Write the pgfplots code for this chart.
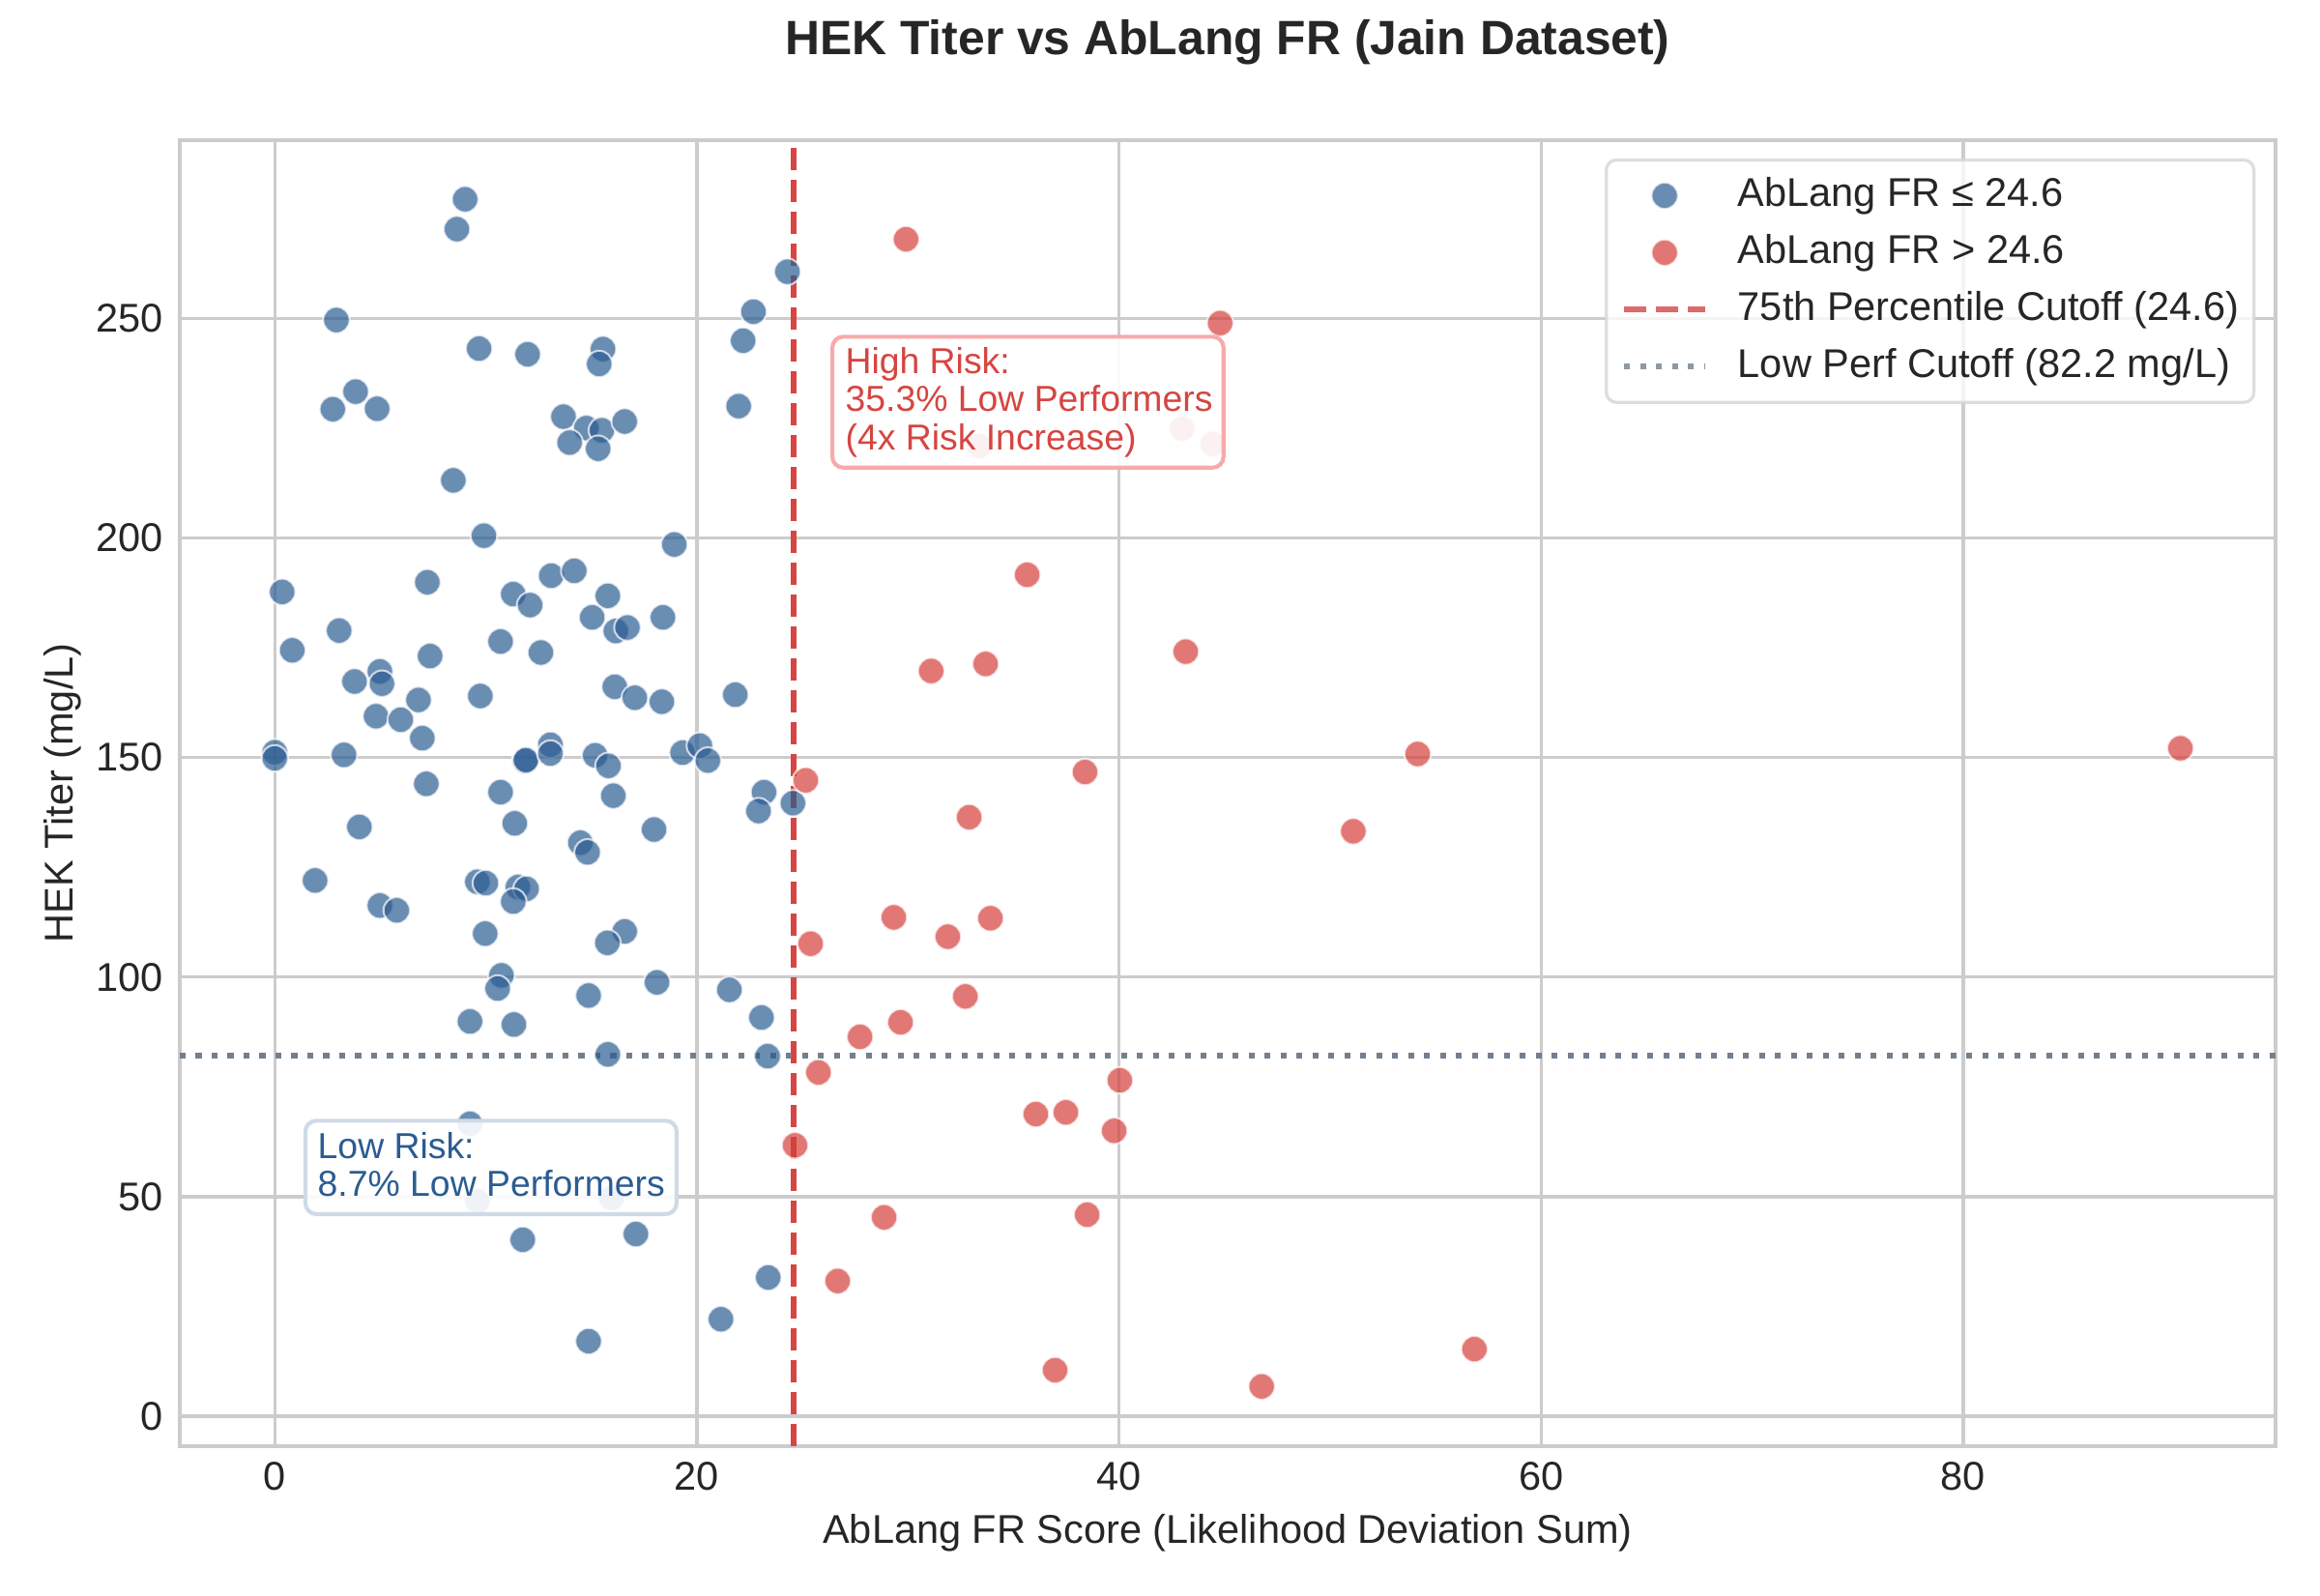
\documentclass[border=0pt]{standalone}
\usepackage{fontspec}
\setmainfont{Liberation Sans}
\setsansfont{Liberation Sans}
\usepackage{pgfplots}
\usepackage{pgfplotstable}
\pgfplotsset{compat=1.18}
\definecolor{frblue}{HTML}{2B5C92}
\definecolor{frred}{HTML}{D64541}
\definecolor{mkred}{HTML}{D43F3A}
\definecolor{gridgray}{HTML}{CCCCCC}
\definecolor{slate}{HTML}{708090}
\definecolor{txt}{HTML}{262626}
\definecolor{lowedge}{HTML}{D0DAE6}
\definecolor{highedge}{HTML}{F8AAAA}
\pgfplotsset{
  dotlegend/.style={legend image code/.code={\draw[##1] plot coordinates {(10.1pt,0pt)};}},
  linelegend/.style={legend image code/.code={\draw[##1] (0pt,0pt) -- (20.2pt,0pt);}},
}

\pgfplotstableread{
x y
9.02 277.1
8.63 270.3
2.92 249.6
9.68 243.1
11.98 241.8
15.55 243.0
15.37 239.6
3.83 233.3
2.75 229.3
4.85 229.4
13.68 227.6
14.76 225.0
15.50 224.5
16.58 226.5
13.97 221.7
15.32 220.3
8.46 213.1
9.91 200.5
18.93 198.5
22.19 244.9
22.68 251.5
21.98 230.0
24.29 260.6
0.35 187.7
7.23 189.9
11.30 187.2
12.10 184.7
13.10 191.4
14.19 192.5
15.78 186.8
15.04 181.9
16.16 178.8
16.71 179.6
18.39 181.9
0.83 174.4
3.05 178.9
10.70 176.4
12.61 173.9
7.36 173.1
4.98 169.6
5.08 166.8
3.78 167.3
6.81 163.1
9.74 164.0
16.11 166.1
17.06 163.6
18.34 162.7
21.82 164.3
4.80 159.4
5.97 158.6
6.99 154.4
0.00 151.2
0.00 149.8
3.28 150.6
11.86 149.2
11.90 149.4
13.06 152.9
13.06 150.9
15.18 150.5
15.81 148.1
19.32 151.1
20.14 152.7
20.52 149.3
7.18 144.0
10.70 142.1
16.04 141.3
11.37 135.0
14.48 130.6
14.82 128.4
17.97 133.6
4.01 134.2
1.91 122.0
4.98 116.3
5.78 115.2
9.60 121.7
10.00 121.4
11.52 120.5
11.93 120.1
11.30 117.2
9.97 109.9
16.58 110.4
15.76 107.8
23.18 142.1
22.92 137.8
24.55 139.6
10.74 100.4
10.56 97.4
14.87 95.8
18.11 98.8
21.54 97.1
9.25 89.9
11.33 89.2
15.78 82.4
23.06 90.8
23.35 82.0
9.25 66.6
9.60 49.0
15.95 49.7
11.75 40.2
17.11 41.5
14.87 17.1
21.14 22.1
23.38 31.6
}\bluedata

\pgfplotstableread{
x y
29.91 268.0
33.37 220.9
35.65 191.6
31.10 169.7
33.68 171.3
38.39 146.7
25.16 144.8
32.90 136.4
29.33 113.6
31.89 109.2
33.91 113.4
25.39 107.6
32.72 95.6
29.65 89.7
27.73 86.4
25.76 78.3
40.04 76.5
36.06 68.8
37.48 69.2
39.77 65.0
24.65 61.7
28.87 45.3
38.49 45.9
26.67 30.8
36.97 10.5
42.99 224.9
44.44 221.4
44.79 248.9
43.16 174.1
54.15 150.8
51.10 133.2
90.29 152.1
46.76 6.8
56.84 15.3
}\reddata

\begin{document}
\begin{tikzpicture}
\path[use as bounding box] (0,0) rectangle (578.16pt,397.48pt);
\begin{axis}[
  at={(44.8pt,37.1pt)}, anchor=south west,
  scale only axis, width=522.3pt, height=325.5pt,
  xmin=-4.5, xmax=94.8, ymin=-6.8, ymax=290.6,
  xtick={0,20,40,60,80}, ytick={0,50,100,150,200,250},
  grid=major, major grid style={draw=gridgray, line width=0.8pt},
  axis line style={draw=gridgray, line width=1pt},
  major tick length=0pt,
  tick label style={font=\fontsize{10}{12}\selectfont, text=txt},
  /pgf/number format/assume math mode=true,
  xticklabel style={anchor=base, yshift=-11pt, inner sep=0pt},
  yticklabel style={anchor=east, xshift=-3.9pt, inner sep=0pt},
  xlabel={AbLang FR Score (Likelihood Deviation Sum)},
  ylabel={HEK Titer (mg/L)},
  xlabel style={at={([yshift=-24.3pt]axis description cs:0.5,0)}, anchor=base, inner sep=0pt, font=\fontsize{10}{12}\selectfont, text=txt},
  ylabel style={at={([xshift=-26.6pt]axis description cs:0,0.5)}, anchor=base, inner sep=0pt, font=\fontsize{10}{12}\selectfont, text=txt},
  title={HEK Titer vs AbLang FR (Jain Dataset)},
  title style={at={([yshift=15.2pt]axis description cs:0.5,1)}, anchor=base, inner sep=0pt, font=\bfseries\fontsize{12}{14}\selectfont, text=txt},
  legend cell align=left,
  legend style={at={(0.9904,0.9859)}, anchor=north east, draw=black!16, line width=0.8pt, rounded corners=2.5pt, fill=white, fill opacity=0.8, draw opacity=0.8, text opacity=1, font=\fontsize{10}{12}\selectfont, text=txt, inner xsep=3.7pt, inner ysep=1.8pt, row sep=0pt, column sep=0pt, nodes={inner xsep=0pt, inner ysep=2.5pt, text height=7.2pt, text depth=2pt}, /tikz/every odd column/.append style={column sep=7.4pt}},
]
\addplot[only marks, mark=*, mark size=3.3pt, mark options={fill=frblue, draw=white, line width=0.5pt, opacity=0.7}, dotlegend] table {\bluedata};
\addlegendentry{AbLang FR ≤ 24.6}
\addplot[only marks, mark=*, mark size=3.3pt, mark options={fill=mkred, draw=white, line width=0.5pt, opacity=0.7}, dotlegend] table {\reddata};
\addlegendentry{AbLang FR > 24.6}
\addplot[frred, line width=1.5pt, dash pattern=on 5.55pt off 2.4pt, linelegend] coordinates {(24.6,-6.8) (24.6,290.6)};
\addlegendentry{75th Percentile Cutoff (24.6)}
\addplot[slate, line width=1.5pt, dash pattern=on 1.5pt off 2.475pt, linelegend] coordinates {(-4.5,82.2) (94.8,82.2)};
\addlegendentry{Low Perf Cutoff (82.2 mg/L)}

\coordinate (lowA) at (axis cs:1.455,46.03);
\coordinate (lowB) at (axis cs:19.04,67.3);
\coordinate (lowT1) at (axis cs:2.0,58.7);
\coordinate (lowT2) at (axis cs:2.0,50.2);
\coordinate (highA) at (axis cs:26.42,216.0);
\coordinate (highB) at (axis cs:44.95,245.8);
\coordinate (highT1) at (axis cs:27.0,237.4);
\coordinate (highT2) at (axis cs:27.0,228.8);
\coordinate (highT3) at (axis cs:27.0,220.1);
\end{axis}

\draw[draw=lowedge, line width=1pt, fill=white, fill opacity=0.9, rounded corners=2.7pt] (lowA) rectangle (lowB);
\node[anchor=base west, inner sep=0pt, text=frblue, font=\fontsize{9}{11}\selectfont] at (lowT1) {Low Risk:};
\node[anchor=base west, inner sep=0pt, text=frblue, font=\fontsize{9}{11}\selectfont] at (lowT2) {8.7\% Low Performers};

\draw[draw=highedge, line width=1pt, fill=white, fill opacity=0.9, rounded corners=2.7pt] (highA) rectangle (highB);
\node[anchor=base west, inner sep=0pt, text=frred, font=\fontsize{9}{11}\selectfont] at (highT1) {High Risk:};
\node[anchor=base west, inner sep=0pt, text=frred, font=\fontsize{9}{11}\selectfont] at (highT2) {35.3\% Low Performers};
\node[anchor=base west, inner sep=0pt, text=frred, font=\fontsize{9}{11}\selectfont] at (highT3) {(4x Risk Increase)};
\end{tikzpicture}
\end{document}
